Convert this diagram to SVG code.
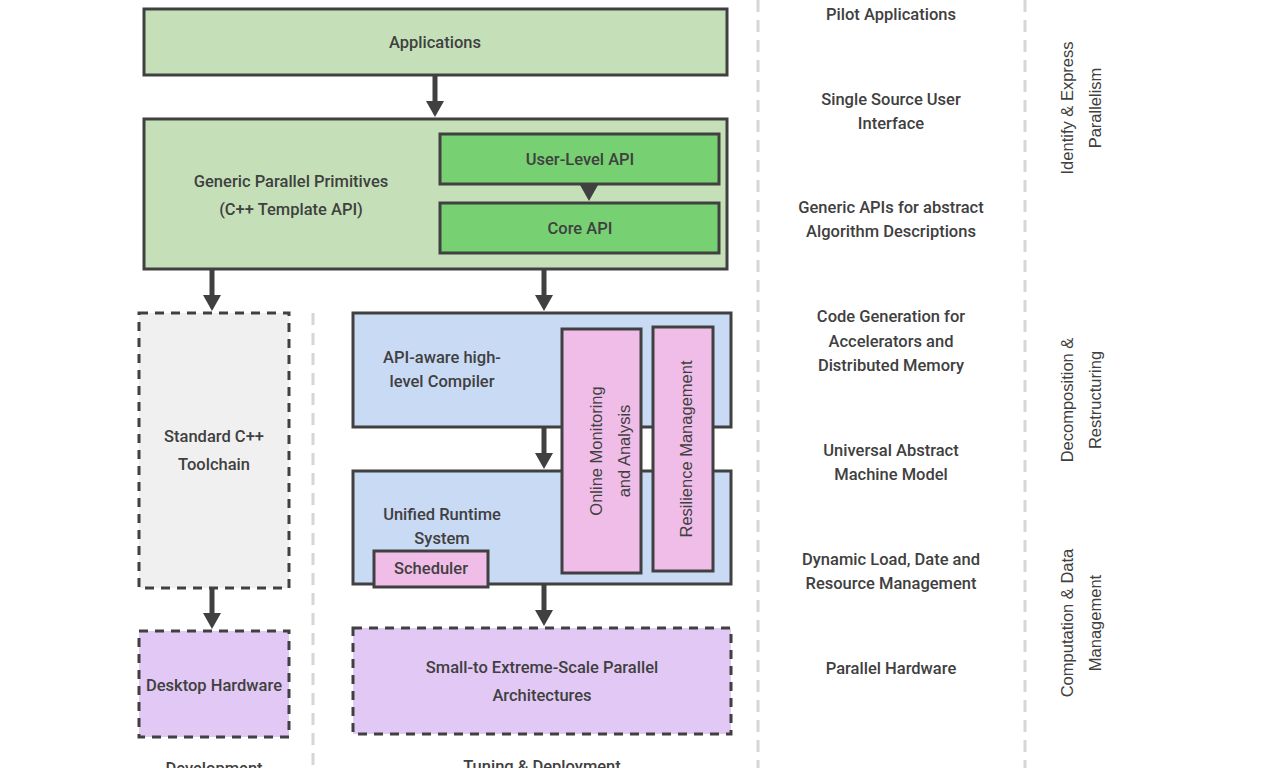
<svg xmlns="http://www.w3.org/2000/svg" width="1280" height="768" viewBox="0 0 1280 768">
<style>
.t{font-family:Roboto,"Liberation Sans",sans-serif;font-weight:500;font-size:16.5px;fill:#404040;text-anchor:middle;dominant-baseline:central}
.r{font-family:"Liberation Sans",Arial,sans-serif;font-size:16.5px;fill:#404040;text-anchor:middle;dominant-baseline:central}
.box{stroke:#404040;stroke-width:3}
.dash{stroke:#404040;stroke-width:3;stroke-dasharray:9 7}
.g1{fill:#c5e0b8}.g2{fill:#77d072}.b{fill:#c9daf5}.p{fill:#f0bde9}.v{fill:#e2c9f5}.gr{fill:#f0f0f0}
.sep{stroke:#d6d6d6;stroke-width:3;stroke-dasharray:12 8;fill:none}
.c{stroke:#404040;stroke-width:5;fill:none}
.ah{fill:#404040}
</style>
<defs>
<path id="head" d="M-9,-16 L9,-16 L0,0 Z"/>
</defs>
<g id="separators">
<line class="sep" x1="313" y1="313" x2="313" y2="768"/>
<line class="sep" x1="758" y1="0" x2="758" y2="768"/>
<line class="sep" x1="1025" y1="0" x2="1025" y2="768"/>
</g>
<g id="applications"><rect class="box g1" x="144" y="9" width="583" height="66"/><text class="t" x="435" y="42">Applications</text></g>
<g id="generic"><rect class="box g1" x="144" y="119" width="583" height="150"/><text class="t" x="291" y="181">Generic Parallel Primitives</text><text class="t" x="291" y="209">(C++ Template API)</text></g>
<g id="userapi"><rect class="box g2" x="440" y="134" width="279" height="50"/><text class="t" x="580" y="159">User-Level API</text></g>
<g id="coreapi"><rect class="box g2" x="440" y="203" width="279" height="50"/><text class="t" x="580" y="228">Core API</text></g>
<g id="stdcpp"><rect class="dash gr" x="139" y="313" width="150" height="275"/><text class="t" x="214" y="436">Standard C++</text><text class="t" x="214" y="464">Toolchain</text></g>
<g id="compiler"><rect class="box b" x="353" y="313" width="378" height="114"/><text class="t" x="442" y="357">API-aware high-</text><text class="t" x="442" y="381">level Compiler</text></g>
<g id="runtime"><rect class="box b" x="353" y="471" width="378" height="113"/><text class="t" x="442" y="514">Unified Runtime</text><text class="t" x="442" y="538">System</text></g>
<g id="scheduler"><rect class="box p" x="374" y="551" width="114" height="36"/><text class="t" x="431" y="568">Scheduler</text></g>
<g id="monitoring"><rect class="box p" x="562" y="329" width="79" height="244"/><text class="r" transform="translate(596,451) rotate(-90)">Online Monitoring</text><text class="r" transform="translate(624,451) rotate(-90)">and Analysis</text></g>
<g id="resilience"><rect class="box p" x="653" y="327" width="60" height="244"/><text class="r" transform="translate(686,449) rotate(-90)">Resilience Management</text></g>
<g id="desktop"><rect class="dash v" x="139" y="631" width="150" height="106"/><text class="t" x="214" y="685">Desktop Hardware</text></g>
<g id="parallel"><rect class="dash v" x="353" y="628" width="378" height="106"/><text class="t" x="542" y="667">Small-to Extreme-Scale Parallel</text><text class="t" x="542" y="695">Architectures</text></g>
<g id="connectors">
<line class="c" x1="435" y1="75" x2="435" y2="102"/><use href="#head" class="ah" x="435" y="117"/>
<use href="#head" class="ah" x="589" y="201"/>
<line class="c" x1="212" y1="269" x2="212" y2="296"/><use href="#head" class="ah" x="212" y="311"/>
<line class="c" x1="544" y1="269" x2="544" y2="296"/><use href="#head" class="ah" x="544" y="311"/>
<line class="c" x1="544" y1="427" x2="544" y2="454"/><use href="#head" class="ah" x="544" y="469"/>
<line class="c" x1="544" y1="584" x2="544" y2="611"/><use href="#head" class="ah" x="544" y="626"/>
<line class="c" x1="212" y1="588" x2="212" y2="614"/><use href="#head" class="ah" x="212" y="629"/>
</g>
<g id="labels">
<text class="t" x="214" y="768">Development</text>
<text class="t" x="542" y="766">Tuning &amp; Deployment</text>
<text class="t" x="891" y="14">Pilot Applications</text>
<text class="t" x="891" y="99">Single Source User</text><text class="t" x="891" y="123">Interface</text>
<text class="t" x="891" y="207">Generic APIs for abstract</text><text class="t" x="891" y="231">Algorithm Descriptions</text>
<text class="t" x="891" y="316">Code Generation for</text><text class="t" x="891" y="341">Accelerators and</text><text class="t" x="891" y="365">Distributed Memory</text>
<text class="t" x="891" y="450">Universal Abstract</text><text class="t" x="891" y="474">Machine Model</text>
<text class="t" x="891" y="559">Dynamic Load, Date and</text><text class="t" x="891" y="583">Resource Management</text>
<text class="t" x="891" y="668">Parallel Hardware</text>
<text class="r" transform="translate(1067,108) rotate(-90)">Identify &amp; Express</text>
<text class="r" transform="translate(1095,108) rotate(-90)">Parallelism</text>
<text class="r" transform="translate(1067,400) rotate(-90)">Decomposition &amp;</text>
<text class="r" transform="translate(1095,400) rotate(-90)">Restructuring</text>
<text class="r" transform="translate(1067,623) rotate(-90)">Computation &amp; Data</text>
<text class="r" transform="translate(1095,623) rotate(-90)">Management</text>
</g>
</svg>
